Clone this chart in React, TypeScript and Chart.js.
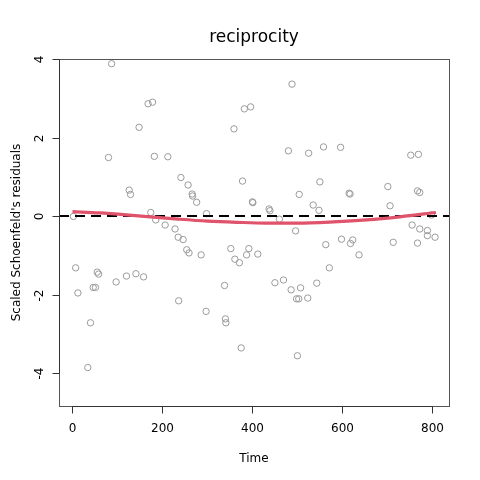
import React, { useEffect, useRef } from "react";
import { Chart, registerables } from "chart.js";

Chart.register(...registerables);

const residualTimes = [
  87, 168, 178, 148, 80, 182, 126, 129,
  488, 382, 396, 359, 212, 480, 525, 241, 257, 266, 267, 276, 378, 400, 401, 504, 437, 439, 174, 298, 460,
  558, 596, 752, 769, 550, 701, 615, 617, 767, 772, 535, 548, 706, 798,
  2, 185, 206, 228, 235, 7, 55, 58, 97, 120, 141, 158, 46, 51, 12, 236, 40, 34,
  246, 254, 259, 286, 352, 361, 371, 392, 387, 412, 496, 338, 450, 469, 486, 507, 498, 503, 523, 297, 340, 341, 375, 500,
  755, 772, 789, 789, 806, 563, 598, 618, 623, 637, 713, 767, 571, 543,
];
const residualValues = [
  3.88, 2.86, 2.9, 2.26, 1.49, 1.52, 0.66, 0.55,
  3.36, 2.73, 2.78, 2.22, 1.51, 1.66, 1.6, 0.98, 0.79, 0.56, 0.51, 0.35, 0.89, 0.36, 0.34, 0.55, 0.18, 0.135, 0.09, 0.06, -0.08,
  1.76, 1.75, 1.55, 1.57, 0.87, 0.75, 0.58, 0.56, 0.64, 0.6, 0.28, 0.145, 0.26, 0.025,
  -0.01, -0.1, -0.23, -0.33, -0.54, -1.32, -1.43, -1.48, -1.68, -1.53, -1.47, -1.55, -1.82, -1.82, -1.96, -2.16, -2.72, -3.86,
  -0.6, -0.86, -0.94, -0.99, -0.83, -1.1, -1.19, -0.83, -0.99, -0.97, -0.38, -1.77, -1.7, -1.63, -1.88, -1.83, -2.11, -2.11, -2.09, -2.43, -2.62, -2.72, -3.36, -3.56,
  -0.23, -0.33, -0.37, -0.5, -0.54, -0.73, -0.59, -0.7, -0.61, -0.99, -0.67, -0.69, -1.32, -1.71,
];
const smoothTimes = [0, 60, 120, 180, 235, 300, 365, 430, 500, 580, 654, 728, 808];
const smoothValues = [0.11, 0.08, 0.03, -0.03, -0.08, -0.13, -0.16, -0.18, -0.18, -0.15, -0.1, -0.02, 0.09];
const xTicks = [0, 200, 400, 600, 800];
const yTicks = [-4, -2, 0, 2, 4];
const xRange = [-30, 837];
const yRange = [-4.84, 4.0];

const FONT = "'DejaVu Sans', sans-serif";

const rAxesPlugin = {
  id: "rAxes",
  afterDraw(chart: any) {
    const ctx = chart.ctx;
    const { left, right, top, bottom } = chart.chartArea;
    const xs = chart.scales.x;
    const ys = chart.scales.y;
    ctx.save();
    // box
    ctx.strokeStyle = "#555555";
    ctx.lineWidth = 1;
    ctx.strokeRect(Math.round(left) + 0.5, Math.round(top) + 0.5, Math.round(right - left), Math.round(bottom - top));
    // x axis
    ctx.strokeStyle = "#333333";
    const by = Math.round(bottom) + 0.5;
    const x0 = xs.getPixelForValue(xTicks[0]);
    const x1 = xs.getPixelForValue(xTicks[xTicks.length - 1]);
    ctx.beginPath();
    ctx.moveTo(x0, by);
    ctx.lineTo(x1, by);
    ctx.stroke();
    ctx.fillStyle = "#000000";
    ctx.font = `12px ${FONT}`;
    ctx.textAlign = "center";
    ctx.textBaseline = "alphabetic";
    xTicks.forEach((t) => {
      const px = Math.round(xs.getPixelForValue(t)) + 0.5;
      ctx.beginPath();
      ctx.moveTo(px, by);
      ctx.lineTo(px, by + 7);
      ctx.stroke();
      ctx.fillText(String(t), px, 432);
    });
    // y axis
    const lx = Math.round(left) + 0.5;
    const y0 = ys.getPixelForValue(yTicks[0]);
    const y1 = ys.getPixelForValue(yTicks[yTicks.length - 1]);
    ctx.beginPath();
    ctx.moveTo(lx, y0);
    ctx.lineTo(lx, y1);
    ctx.stroke();
    yTicks.forEach((t) => {
      const py = Math.round(ys.getPixelForValue(t)) + 0.5;
      ctx.beginPath();
      ctx.moveTo(lx, py);
      ctx.lineTo(lx - 7, py);
      ctx.stroke();
      ctx.save();
      ctx.translate(43, py);
      ctx.rotate(-Math.PI / 2);
      ctx.fillText(String(t), 0, 0);
      ctx.restore();
    });
    // titles
    ctx.font = `17px ${FONT}`;
    ctx.fillText("reciprocity", (left + right) / 2, 42);
    ctx.font = `12px ${FONT}`;
    ctx.fillText("Time", (left + right) / 2, 461.5);
    ctx.save();
    ctx.translate(20, (top + bottom) / 2);
    ctx.rotate(-Math.PI / 2);
    ctx.fillText("Scaled Schoenfeld's residuals", 0, 0);
    ctx.restore();
    ctx.restore();
  },
};

export default function App() {
  const ref = useRef<HTMLCanvasElement | null>(null);
  useEffect(() => {
    document.body.style.margin = "0";
    if (!ref.current) return;
    const points = residualTimes.map((x, i) => ({ x, y: residualValues[i] }));
    const smooth = smoothTimes.map((x, i) => ({ x, y: smoothValues[i] }));
    const zero = [
      { x: xRange[0], y: 0 },
      { x: xRange[1], y: 0 },
    ];
    const chart = new Chart(ref.current, {
      type: "scatter",
      data: {
        datasets: [
          {
            data: points,
            showLine: false,
            pointRadius: 3.2,
            pointBorderWidth: 1,
            pointBorderColor: "#9a9a9a",
            pointBackgroundColor: "rgba(0,0,0,0)",
            order: 3,
          },
          {
            data: zero,
            showLine: true,
            pointRadius: 0,
            borderColor: "#000000",
            borderWidth: 2.2,
            borderDash: [10, 6],
            order: 2,
          },
          {
            data: smooth,
            showLine: true,
            pointRadius: 0,
            borderColor: "#DF536B",
            borderWidth: 3.2,
            cubicInterpolationMode: "monotone",
            order: 1,
          },
        ],
      },
      options: {
        responsive: false,
        animation: false,
        devicePixelRatio: 1,
        layout: { padding: { top: 59, right: 31, left: 0, bottom: 0 } },
        plugins: { legend: { display: false }, tooltip: { enabled: false }, title: { display: false } },
        scales: {
          x: {
            type: "linear",
            min: xRange[0],
            max: xRange[1],
            grid: { display: false },
            border: { display: false },
            ticks: { display: false },
            afterFit: (s: any) => {
              s.height = 74;
            },
          },
          y: {
            type: "linear",
            min: yRange[0],
            max: yRange[1],
            grid: { display: false },
            border: { display: false },
            ticks: { display: false },
            afterFit: (s: any) => {
              s.width = 59;
            },
          },
        },
      },
      plugins: [rAxesPlugin],
    } as any);
    return () => chart.destroy();
  }, []);
  return (
    <div style={{ width: 480, height: 480, background: "#ffffff" }}>
      <canvas ref={ref} width={480} height={480} />
    </div>
  );
}
